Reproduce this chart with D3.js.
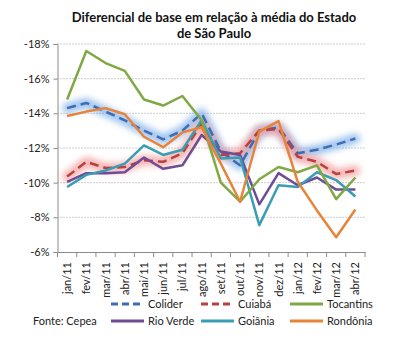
<!DOCTYPE html>
<html><head><meta charset="utf-8">
<script src="https://cdn.jsdelivr.net/npm/d3@7/dist/d3.min.js"></script>
<style>body{margin:0;background:#fff}svg{display:block}text{font-family:Lato,"Open Sans",sans-serif}</style>
</head><body><svg id="c" width="400" height="348"></svg>
<script>
const months = ["jan/11","fev/11","mar/11","abr/11","mai/11","jun/11","jul/11","ago/11","set/11","out/11","nov/11","dez/11","jan/12","fev/12","mar/12","abr/12"];
const yTicks = [-18,-16,-14,-12,-10,-8,-6];
const colider   = [-14.3,-14.6,-14.1,-13.6,-13.0,-12.5,-13.0,-14.0,-11.8,-11.0,-13.0,-13.2,-11.7,-11.9,-12.2,-12.55];
const cuiaba    = [-10.35,-11.2,-10.85,-10.9,-11.3,-11.2,-11.7,-13.4,-11.6,-11.7,-13.0,-13.1,-11.5,-11.2,-10.5,-10.7];
const tocantins = [-14.8,-17.6,-16.9,-16.45,-14.8,-14.45,-15.0,-13.6,-10.0,-8.9,-10.2,-10.9,-10.6,-11.0,-9.05,-10.3];
const rioVerde  = [-10.05,-10.55,-10.55,-10.6,-11.45,-10.8,-11.0,-12.75,-11.8,-11.6,-8.75,-10.55,-9.85,-10.3,-9.6,-9.6];
const goiania   = [-9.75,-10.45,-10.7,-11.1,-12.15,-11.6,-11.9,-13.6,-11.4,-11.45,-7.55,-9.85,-9.75,-10.6,-10.15,-9.2];
const rondonia  = [-13.85,-14.1,-14.3,-13.95,-12.65,-12.05,-12.9,-13.2,-11.1,-8.9,-12.95,-13.55,-10.05,-8.4,-6.85,-8.45];

const series = [
  {name:"Colider",   values:colider,   color:"#3d6db4", dash:"9,5", glow:"#7fb0ea"},
  {name:"Cuiabá",    values:cuiaba,    color:"#b8413d", dash:"9,5", glow:"#f19a9a"},
  {name:"Tocantins", values:tocantins, color:"#80a844"},
  {name:"Rio Verde", values:rioVerde,  color:"#6e4c96"},
  {name:"Goiânia",   values:goiania,   color:"#3b9db3"},
  {name:"Rondônia",  values:rondonia,  color:"#e8843a"}
];

const svg = d3.select("#c");
const L=57.5, R=365, T=44, B=252;
const x = d3.scaleBand().domain(months).range([L,R]);
const y = d3.scaleLinear().domain([-18,-6]).range([T,B]);
const cx = d => x(d)+x.bandwidth()/2;

const defs = svg.append("defs");
const f = defs.append("filter").attr("id","glow").attr("x","-10%").attr("y","-30%").attr("width","120%").attr("height","160%");
f.append("feGaussianBlur").attr("stdDeviation",3);

// grid
svg.append("g").selectAll("line").data(yTicks.filter(v=>v!==-6)).join("line")
  .attr("x1",L).attr("x2",R).attr("y1",d=>y(d)).attr("y2",d=>y(d))
  .attr("stroke","#9a9a9a").attr("stroke-width",1).attr("stroke-dasharray","1,2");

// y axis
const ya = svg.append("g").attr("transform",`translate(${L},0)`)
  .call(d3.axisLeft(y).tickValues(yTicks).tickSize(4).tickPadding(4).tickFormat(d=>d+"%"));
ya.select(".domain").attr("stroke","#8c8c8c");
ya.selectAll(".tick line").attr("stroke","#8c8c8c");
ya.selectAll("text").attr("font-size",11).attr("fill","#222");

// x axis
const xa = svg.append("g").attr("transform",`translate(0,${B})`)
  .call(d3.axisBottom(x).tickSize(0).tickPadding(0));
xa.select(".domain").attr("stroke","#8c8c8c");
xa.selectAll(".tick text").attr("font-size",11).attr("fill","#222")
  .attr("transform","rotate(-90)").attr("text-anchor","end").attr("dx","-10px").attr("dy","4px").attr("y",0);
svg.append("g").selectAll("line").data(months.concat(["_end"])).join("line")
  .attr("x1",(d,i)=>L+i*x.bandwidth()).attr("x2",(d,i)=>L+i*x.bandwidth())
  .attr("y1",B).attr("y2",B+5).attr("stroke","#8c8c8c");

const line = d3.line().x((d,i)=>cx(months[i])).y(d=>y(d));

// glows
series.filter(s=>s.glow).forEach(s=>{
  svg.append("path").attr("d",line(s.values)).attr("fill","none")
    .attr("stroke",s.glow).attr("stroke-width",10).attr("stroke-opacity",0.75)
    .attr("stroke-linejoin","round").attr("stroke-linecap","round").attr("filter","url(#glow)");
});

const order = ["Colider","Cuiabá","Rio Verde","Goiânia","Tocantins","Rondônia"];
order.forEach(n=>{
  const s = series.find(q=>q.name===n);
  svg.append("path").attr("d",line(s.values)).attr("fill","none")
    .attr("stroke",s.color).attr("stroke-width",2.5)
    .attr("stroke-dasharray",s.dash||null).attr("stroke-linejoin","round");
});

// title
const title = svg.append("text").attr("x",214).attr("y",22).attr("text-anchor","middle")
  .attr("font-size",13).attr("font-weight","bold").attr("fill","#111");
title.append("tspan").attr("x",214).text("Diferencial de base em relação à média do Estado");
title.append("tspan").attr("x",214).attr("dy",16).text("de São Paulo");

// legend
const lx = [111,201,290], ly=[304,321];
series.forEach((s,i)=>{
  const gx = lx[i%3], gy = ly[Math.floor(i/3)];
  svg.append("line").attr("x1",gx).attr("x2",gx+33).attr("y1",gy).attr("y2",gy)
    .attr("stroke",s.color).attr("stroke-width",3).attr("stroke-dasharray",s.dash?"7,4":null);
  svg.append("text").attr("x",gx+37).attr("y",gy+4).attr("font-size",11).attr("fill","#222").text(s.name);
});
svg.append("text").attr("x",33).attr("y",325).attr("font-size",11).attr("fill","#222").text("Fonte: Cepea");
</script></body></html>
